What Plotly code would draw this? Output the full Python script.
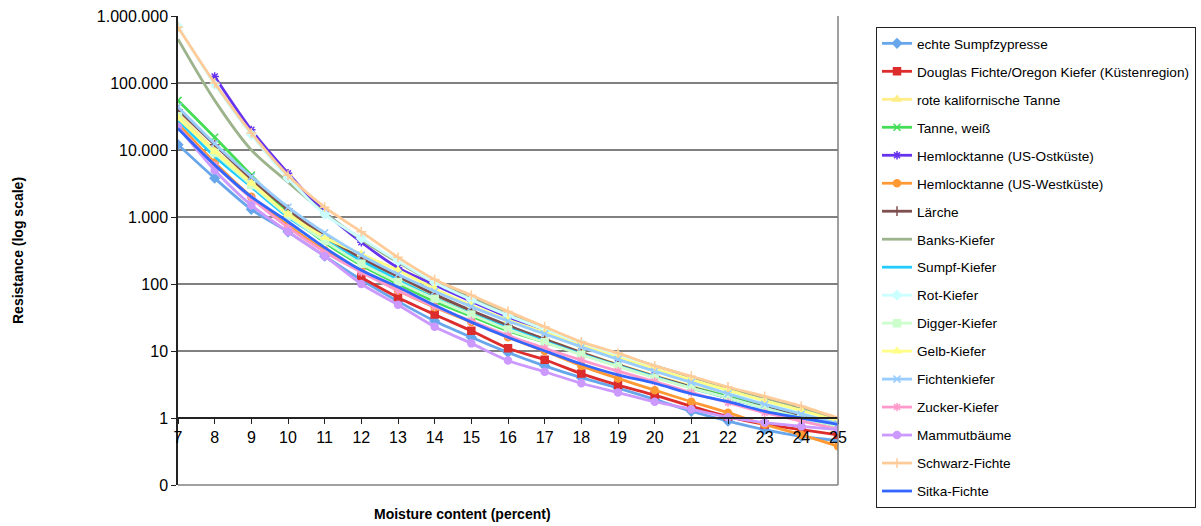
import plotly.graph_objects as go

moisture = list(range(7, 26))

names = [
    "echte Sumpfzypresse",
    "Douglas Fichte/Oregon Kiefer (Küstenregion)",
    "rote kalifornische Tanne",
    "Tanne, weiß",
    "Hemlocktanne (US-Ostküste)",
    "Hemlocktanne (US-Westküste)",
    "Lärche",
    "Banks-Kiefer",
    "Sumpf-Kiefer",
    "Rot-Kiefer",
    "Digger-Kiefer",
    "Gelb-Kiefer",
    "Fichtenkiefer",
    "Zucker-Kiefer",
    "Mammutbäume",
    "Schwarz-Fichte",
    "Sitka-Fichte",
]

echte_sumpfzypresse = [12000, 3800, 1300, 600, 260, 115, 55, 28, 16, 9.5, 6.0, 4.0, 2.8, 1.9, 1.26, 0.9, 0.67, 0.53, 0.46]
douglas = [None, None, None, None, None, 125, 63, 35, 20, 11, 7.4, 4.6, 3.1, 2.2, 1.5, 1.05, 0.8, 0.67, 0.56]
rote_kalif_tanne = [35000, 10000, 3400, 1200, 500, 230, 120, 65, 38, 23, 15, 9.5, 6.3, 4.3, 3.0, 2.1, 1.5, 1.1, 0.8]
tanne_weiss = [55000, 15500, 4200, 1150, 420, 190, 100, 55, 33, 20, 13.5, 9.0, 6.0, 4.1, 2.9, 2.1, 1.5, 1.1, 0.8]
hemlock_ost = [None, 125000, 20000, 4500, 1200, 420, 175, 97, 55, 32, 19, 12, 7.8, 5.2, 3.5, 2.4, 1.7, 1.2, 0.85]
hemlock_west = [25000, 6500, 2000, 750, 320, 160, 80, 45, 27, 16, 10, 6.0, 3.9, 2.6, 1.75, 1.2, 0.8, 0.56, 0.38]
laerche = [40000, 12000, 3700, 1300, 520, 240, 130, 70, 40, 24, 15, 9.5, 6.2, 4.2, 2.9, 2.0, 1.45, 1.05, 0.78]
banks_kiefer = [450000, 55000, 10000, 3300, 1150, 460, 210, 105, 62, 36, 22, 13.5, 9.0, 6.0, 4.1, 2.8, 2.0, 1.4, 0.98]
sumpf_kiefer = [28000, 8000, 2800, 1000, 450, 220, 115, 62, 36, 22, 14, 9.0, 6.0, 4.1, 2.8, 2.0, 1.4, 1.0, 0.75]
rot_kiefer = [700000, 95000, 17000, 3800, 1100, 480, 220, 105, 58, 34, 21, 13, 8.5, 5.6, 3.6, 2.4, 1.7, 1.2, 0.85]
digger_kiefer = [32000, 9000, 3000, 1050, 440, 200, 107, 60, 35, 21, 13.5, 8.8, 5.9, 4.0, 2.8, 2.0, 1.4, 1.0, 0.75]
gelb_kiefer = [30000, 9500, 3200, 1100, 500, 280, 160, 85, 48, 29, 19, 12, 8.0, 5.4, 3.7, 2.6, 1.8, 1.3, 0.9]
fichtenkiefer = [44000, 12500, 4000, 1400, 580, 270, 140, 78, 46, 28, 18, 11.5, 7.5, 5.0, 3.4, 2.3, 1.6, 1.15, 0.82]
zucker_kiefer = [22000, 6000, 1900, 700, 300, 150, 80, 46, 28, 17, 11, 7.3, 5.0, 3.5, 2.4, 1.7, 1.2, 0.9, 0.68]
mammutbaeume = [22000, 5000, 1500, 600, 260, 100, 49, 23, 13, 7.2, 4.9, 3.3, 2.4, 1.75, 1.35, 1.03, 0.85, 0.75, 0.67]
schwarz_fichte = [680000, 100000, 18000, 4200, 1400, 600, 250, 117, 68, 39, 23, 13.7, 9.3, 6.0, 4.2, 2.9, 2.1, 1.5, 1.0]
sitka_fichte = [21000, 6000, 2000, 850, 350, 160, 90, 48, 27, 16, 10, 6.4, 4.4, 3.3, 2.3, 1.75, 1.26, 1.0, 0.8]

series = [
    echte_sumpfzypresse, douglas, rote_kalif_tanne, tanne_weiss, hemlock_ost,
    hemlock_west, laerche, banks_kiefer, sumpf_kiefer, rot_kiefer, digger_kiefer,
    gelb_kiefer, fichtenkiefer, zucker_kiefer, mammutbaeume, schwarz_fichte, sitka_fichte,
]

colors = [
    "#68A6EC", "#DD2C2C", "#FFEE88", "#44DD55", "#6633EE", "#FF9933", "#7F4E4E",
    "#9CB38C", "#22CCFF", "#CCFFFF", "#CCFFCC", "#FFFF88", "#99CCFF", "#FF99CC",
    "#CC99FF", "#FFCC99", "#3366FF",
]
symbols = [
    "diamond", "square", "triangle-up", "x-thin-open", "asterisk-open", "circle",
    "cross-thin-open", None, None, "diamond", "square", "triangle-up", "x-thin-open",
    "asterisk-open", "circle", "cross-thin-open", None,
]

y_tickvals = [0.1, 1, 10, 100, 1000, 10000, 100000, 1000000]
y_ticktext = ["0", "1", "10", "100", "1.000", "10.000", "100.000", "1.000.000"]

FONT = "Liberation Sans, Arial, sans-serif"

fig = go.Figure()
for i, (name, vals, col, sym) in enumerate(zip(names, series, colors, symbols)):
    if sym is None:
        mode = "lines"
        marker = dict()
    else:
        marker = dict(symbol=sym, size=7, color=col, line=dict(color=col, width=1.5))
        mode = "lines+markers"
    fig.add_trace(go.Scatter(
        x=moisture, y=vals, name=name, mode=mode, marker=marker,
        line=dict(color=col, width=2.8, shape="spline", smoothing=0.8),
        legendgroup=f"g{i}", connectgaps=False,
    ))

fig.update_layout(
    width=1201, height=526,
    margin=dict(l=178, r=363, t=16, b=41, autoexpand=False),
    paper_bgcolor="white", plot_bgcolor="white",
    font=dict(family=FONT, color="black"),
    showlegend=True,
    legend=dict(
        x=(876 - 178) / 660, y=(485 - 27) / 469, xanchor="left", yanchor="top",
        bordercolor="#222222", borderwidth=1, maxheight=500,
        font=dict(family=FONT, size=13.6, color="black"),
        tracegroupgap=7.3, itemwidth=30,
    ),
    xaxis=dict(
        range=[7, 25], tickvals=moisture, ticktext=[str(m) for m in moisture],
        anchor="free", position=1 / 7, showgrid=False, zeroline=False,
        showline=True, linecolor="#222222", linewidth=1.5,
        ticks="outside", ticklen=5, tickcolor="#222222",
        tickfont=dict(size=16, family=FONT, color="black"),
    ),
    yaxis=dict(
        type="log", range=[-1, 6], tickvals=y_tickvals, ticktext=y_ticktext,
        showgrid=True, gridcolor="#808080", gridwidth=1.5, zeroline=False,
        showline=True, linecolor="#222222", linewidth=1.5,
        ticks="outside", ticklen=5, tickcolor="#222222",
        tickfont=dict(size=16, family=FONT, color="black"),
    ),
    shapes=[
        dict(type="line", xref="paper", yref="paper", x0=0, x1=1, y0=0, y1=0,
             line=dict(color="#808080", width=1.5)),
        dict(type="line", xref="paper", yref="paper", x0=1, x1=1, y0=0, y1=1,
             line=dict(color="#808080", width=1.5)),
    ],
    annotations=[
        dict(text="<b>Moisture content (percent)</b>", xref="paper", yref="paper",
             x=(462.5 - 178) / 660, y=-(514 - 485) / 469, xanchor="center", yanchor="middle",
             showarrow=False, font=dict(size=14, family=FONT, color="black")),
        dict(text="<b>Resistance (log scale)</b>", xref="paper", yref="paper",
             x=(18 - 178) / 660, y=(485 - 251) / 469, xanchor="center", yanchor="middle",
             textangle=-90, showarrow=False, font=dict(size=14, family=FONT, color="black")),
    ],
)

fig.write_html("out.html")
